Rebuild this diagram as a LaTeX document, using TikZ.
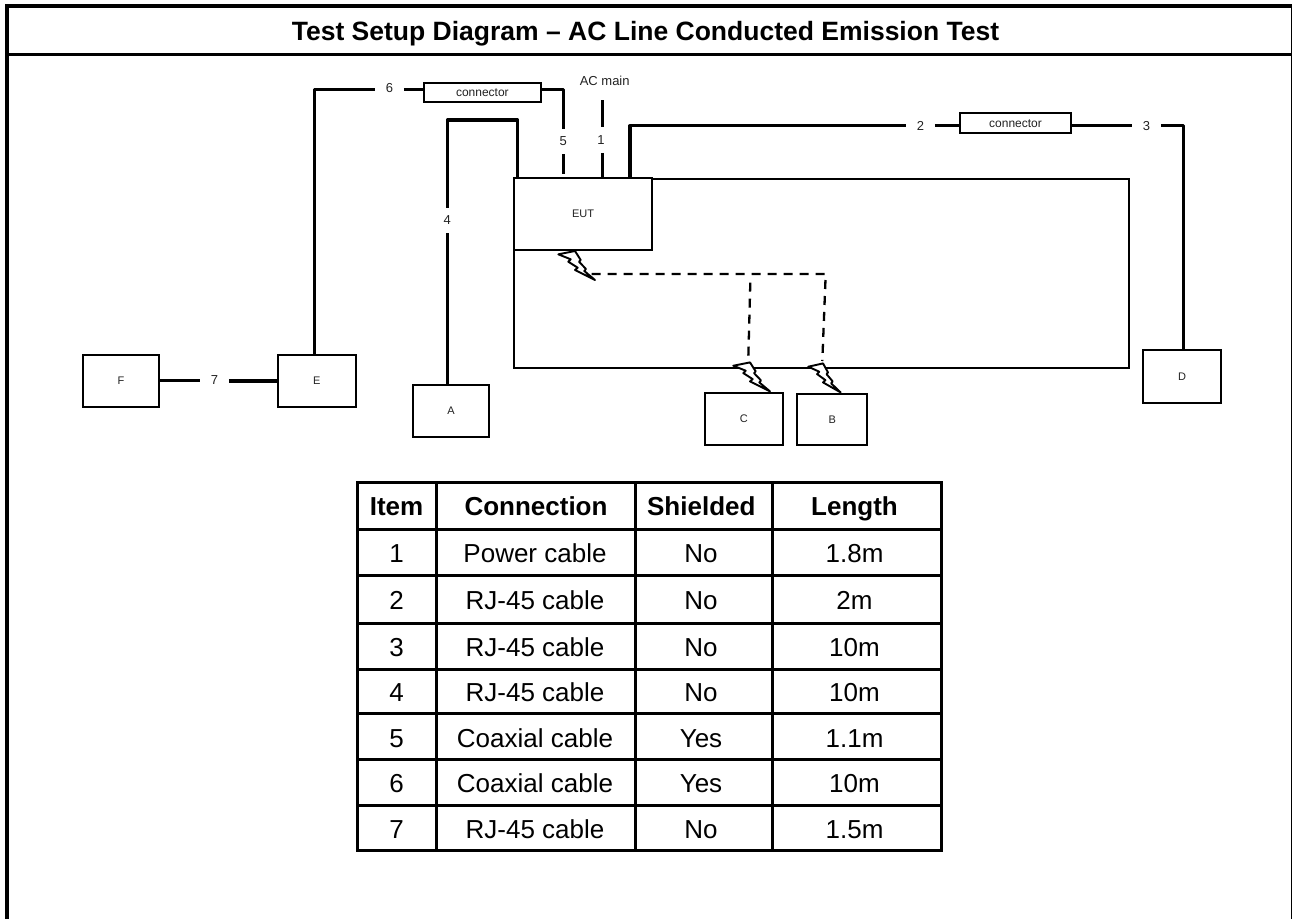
\documentclass[tikz,border=0pt]{standalone}
\usepackage{fontspec}
\setmainfont{Liberation Sans}
\usetikzlibrary{calc}
\definecolor{softink}{HTML}{222222}
\tikzset{
  x=1pt,y=-1pt,
  wire/.style={draw=black,line width=3.2pt,line join=round},
  ground/.style={draw=black,line width=2.3pt,dash pattern=on 9pt off 7pt},
  boltline/.style={draw=black,line width=1.9pt,fill=white,line join=round},
  device/.style={draw=black,line width=2.2pt,fill=white,anchor=north west,inner sep=0pt,outer sep=0pt,text=softink,font=\fontsize{11}{13}\selectfont},
  lab/.style={inner sep=0pt,outer sep=0pt,minimum width=28.5pt,minimum height=25.5pt,text=softink,font=\fontsize{13}{15}\selectfont},
  cell/.style={font=\fontsize{26}{30}\selectfont,inner sep=0pt,anchor=base},
  head/.style={font=\fontsize{26}{30}\bfseries\selectfont,inner sep=0pt,anchor=base},
  tline/.style={draw=black,line width=3pt},
}
\newcommand{\devbox}[6]{\node[device,minimum width=#4-#3,minimum height=#6-#5] (#1) at (#3,#5) {\raisebox{-1pt}{#2}};}
\newcommand{\boltat}[3]{\draw[boltline,shift={(#1,#2)},xscale=#3] (0,3.3) -- (16.7,0) -- (22.4,9) -- (20.7,10.7) -- (27.7,18) -- (26,20) -- (36.7,29) -- (16.7,19) -- (19.4,16.7) -- (10,10.7) -- (12.4,8.3) -- cycle;}
\begin{document}
\begin{tikzpicture}
\useasboundingbox (0,0) rectangle (1292,919);
% frame
\fill[black] (5,4) rectangle (1292,7.7);
\fill[black] (5,4) rectangle (9,919);
\fill[black] (1291.2,4) rectangle (1292,919);
\fill[black] (7,53.3) rectangle (1292,55.7);
\node[font=\fontsize{26.5}{30}\bfseries\selectfont,inner sep=0pt,anchor=base] (title) at (645.5,40) {Test Setup Diagram – AC Line Conducted Emission Test};
% boxes
\node[draw=black,line width=2pt,anchor=north west,inner sep=0pt,outer sep=0pt,minimum width=615.6,minimum height=189.6] (panel) at (513.7,178.7) {};
\node[device,minimum width=138.6,minimum height=72.3] (eut) at (513.7,177.7) {EUT};
\devbox{fb}{F}{82.7}{159.3}{355}{407.3}
\devbox{eb}{E}{277.7}{355.7}{355}{407.3}
\devbox{ab}{A}{413}{489}{385}{437}
\devbox{cb}{C}{705}{782.7}{393.3}{445}
\devbox{bb}{B}{797.3}{867.3}{394.3}{445}
\devbox{db}{D}{1143}{1221}{350}{403}
\node[device,font=\fontsize{12}{14}\selectfont,minimum width=116.7,minimum height=19] (c1) at (424,83.3) {\raisebox{-1.5pt}{connector}};
\node[device,font=\fontsize{12}{14}\selectfont,minimum width=111,minimum height=20] (c2) at (960,113.3) {\raisebox{-1.5pt}{connector}};
% labels
\node[lab] (l1) at (601,140) {1};
\node[lab] (l2) at (920.5,126) {2};
\node[lab] (l3) at (1146.5,126) {3};
\node[lab] (l4) at (447.3,220.5) {4};
\node[lab] (l5) at (563.3,141.5) {5};
\node[lab] (l6) at (389.5,88.3) {6};
\node[lab] (l7) at (214.5,380) {7};
\node[font=\fontsize{13}{15}\selectfont,text=softink,inner sep=0pt] (ac) at (604.7,80.7) {AC main};
\coordinate (acend) at (602.7,100);
% wires
\draw[wire] (314.7,355) -- (314.7,89.3) -- (l6.west |- 0,89.3);
\draw[wire] (l6.east |- 0,89.3) -- (424,89.3);
\draw[wire] (540.7,89.3) -- (563.3,89.3) -- (l5.north);
\draw[wire] (l5.south) -- (563.3,174.3);
\draw[wire] (acend) -- (acend |- l1.north);
\draw[wire] (acend |- l1.south) -- (602.7,177);
\draw[wire] (447.3,385) -- (l4.south);
\draw[wire] (l4.north) -- (447.3,120) -- (517.7,120) -- (517.7,177);
\draw[wire] (630,177) -- (630,125.7) -- (l2.west |- 0,125.7);
\draw[wire] (l2.east |- 0,125.7) -- (960,125.7);
\draw[wire] (1071,125.2) -- (l3.west |- 0,125.2);
\draw[wire] (l3.east |- 0,125.2) -- (1183.3,125.2) -- (1183.3,350);
\draw[wire] (160,380.3) -- (l7.west |- 0,380.3);
\draw[wire] (l7.east |- 0,381) -- (277.7,381);
% dashed
\draw[ground] (591.7,274) -- (825.7,274) -- (822.3,361);
\draw[ground] (750.3,282.7) -- (748.3,358);
% bolts
\boltat{558.3}{251}{1}
\boltat{733.3}{362.4}{1}
\boltat{808.3}{363.4}{0.88}
% table
\foreach \yy in {482.5,529.3,575.8,623,669.3,713.7,759.7,805.3,850.7}
  \draw[tline] (356.2,\yy) -- (943.2,\yy);
\foreach \xx in {357.7,436.7,635.7,772,941.7}
  \draw[tline] (\xx,481) -- (\xx,852.2);
\node[head] (hi) at (396.5,515) {Item};
\node[head] (hc) at (536,515) {Connection};
\node[head] (hs) at (701.3,515) {Shielded};
\node[head] (hl) at (854.5,515) {Length};
\foreach \yy/\a/\b/\c/\d [count=\i] in {
 562.3/1/Power cable/No/1.8m,
 609.3/2/RJ-45 cable/No/2m,
 656.7/3/RJ-45 cable/No/10m,
 701.7/4/RJ-45 cable/No/10m,
 747.3/5/Coaxial cable/Yes/1.1m,
 792.7/6/Coaxial cable/Yes/10m,
 838.3/7/RJ-45 cable/No/1.5m}{
 \node[cell] (ci\i) at (396.5,\yy) {\a};
 \node[cell] (cc\i) at (535,\yy) {\b};
 \node[cell] (cs\i) at (701,\yy) {\c};
 \node[cell] (cl\i) at (854.5,\yy) {\d};
}
\end{tikzpicture}
\end{document}
